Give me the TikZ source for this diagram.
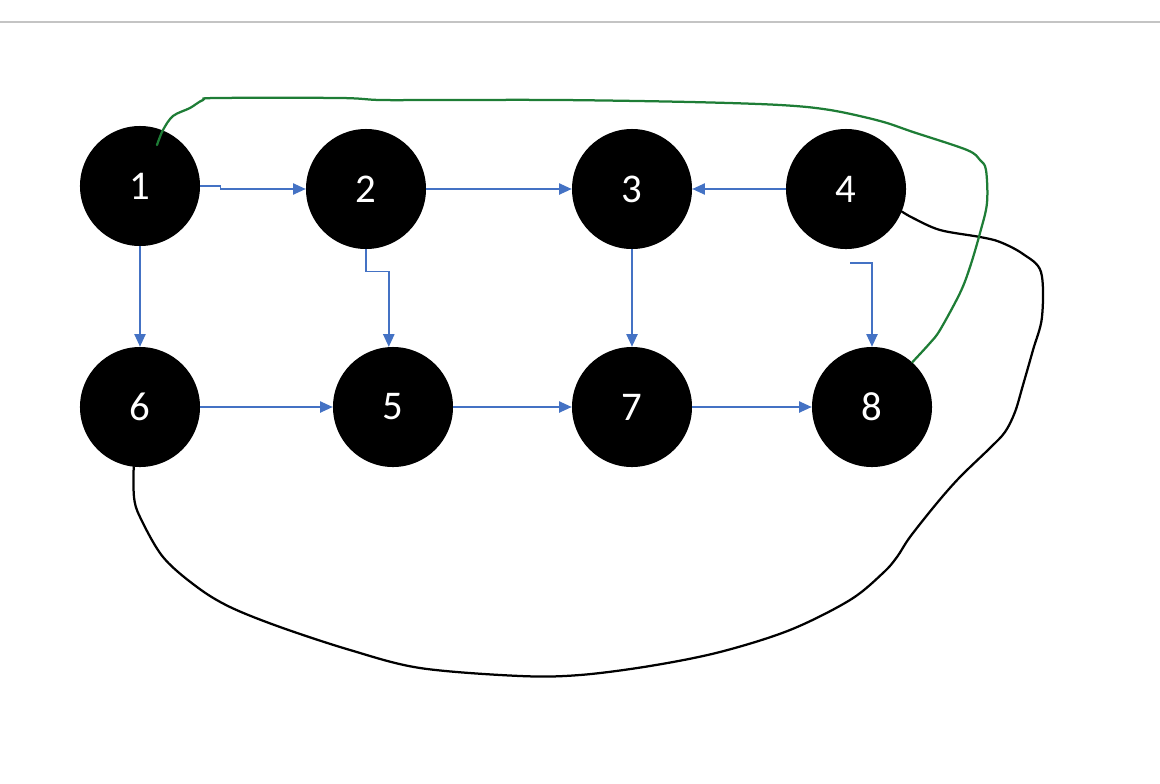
\documentclass[tikz,border=0pt]{standalone}
\usepackage{fontspec}
\setmainfont{Carlito}
\usepackage{tikz}
\usetikzlibrary{arrows.meta,calc}
\definecolor{edgeblue}{HTML}{4472C4}
\definecolor{loopgreen}{HTML}{1E7D36}
\definecolor{rulegray}{HTML}{C4C4C4}

\begin{document}
\begin{tikzpicture}[x=0.025cm,y=-0.025cm,
 every node/.style={font=\fontsize{29}{31}\selectfont},
 vert/.style={circle,fill=black,text=white,minimum size=3cm,inner sep=0pt},
 link/.style={edgeblue,line width=1.1pt,-{Triangle[length=9pt,width=8pt]}},
 loop/.style={line width=1.6pt,line cap=round}]
 \useasboundingbox (0,0) rectangle (1160,784);
 \draw[rulegray,line width=0.8pt] (0,22) -- (1160,22);
 \node[vert] (n1) at (140,186) {1};
 \node[vert] (n2) at (366,189) {2};
 \node[vert] (n3) at (632,189) {3};
 \node[vert] (n4) at (846,189) {4};
 \node[vert] (n6) at (140,407) {6};
 \node[vert] (n5) at (393,407) {5};
 \node[vert] (n7) at (632,407) {7};
 \node[vert] (n8) at (872,407) {8};
 \draw[link] (n1.east) -- ++(20,0) |- (n2.west);
 \draw[link] (n2.south) -- ++(0,22) -| (n5.94);
 \draw[link] (n2.east) -- (n3.west);
 \draw[link] (n4.west) -- (n3.east);
 \coordinate (s48) at (850,263);
 \draw[link] (s48) -| (n8.north);
 \draw[link] (n1.south) -- (n6.north);
 \draw[link] (n3.south) -- (n7.north);
 \draw[link] (n6.east) -- (n5.west);
 \draw[link] (n5.east) -- (n7.west);
 \draw[link] (n7.east) -- (n8.west);
 % hand drawn loops
 \draw[loop] plot[smooth,tension=0.55] coordinates {(n4.-22) (913,218) (940,230)
  (980,237) (1000,242) (1023,254) (1041,272) (1042,317) (1033,350) (1023,385)
  (1015,412) (1005,432) (990,448) (960,477) (937,503) (910,537) (897,557)
  (883,573) (850,600) (790,630) (720,652) (650,666) (580,675) (520,676)
  (420,668) (350,650) (280,627) (230,607) (197,587) (163,557) (140,517)
  (134,497) (n6.-96)};
 \coordinate (g1) at ($(n1)+(17,-41)$);
 \draw[loop,loopgreen] plot[smooth,tension=0.55] coordinates {(g1) (163,130)
  (173,116) (190,108) (203,100) (217,98) (340,98) (380,100) (440,100) (560,100)
  (690,102) (780,105) (830,110) (880,121) (913,132) (967,150) (980,160)
  (986,170) (987,203) (980,233) (970,267) (960,293) (940,330) (930,343) (n8.48)};
\end{tikzpicture}
\end{document}
